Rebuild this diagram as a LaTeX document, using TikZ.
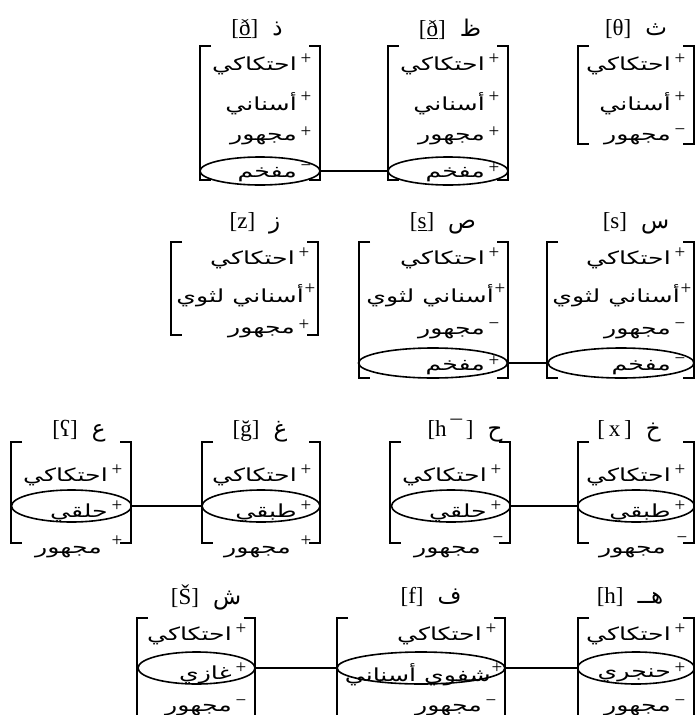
\documentclass[tikz,border=0pt]{standalone}
\usepackage{fontspec}
\setmainfont{Liberation Serif}
\newfontfamily\arabicfont[Script=Arabic,FakeStretch=1.4]{DejaVu Sans}
\newfontfamily\arabictitle[Script=Arabic]{DejaVu Sans}
\TeXXeTstate=1
\usetikzlibrary{shapes.geometric}

% bracket pair of a feature matrix: name, left x, right x, top y, bottom y
\newcommand\featmatrix[5]{%
  \coordinate (#1-nw) at (#2,#4);
  \coordinate (#1-se) at (#3,#5);
  \draw[brk] (#2+11,#4) -- (#1-nw) -- (#2,#5) -- (#2+11,#5);
  \draw[brk] (#3-11,#4) -- (#3,#4) -- (#1-se) -- (#3-11,#5);}

% one feature line: name, right x of the matrix, y, sign, feature
\newcommand\featrow[5]{%
  \node[sgn] (#1s) at (#2-14,#3-7) {#4};
  \node[ftxt,anchor=east] (#1t) at (#2-23,#3) {#5};}

% a feature line whose sign sits close to the word
\newcommand\featrowtight[5]{%
  \node[sgn] (#1s) at (#2-8,#3-7) {#4};
  \node[ftxt,anchor=east] (#1t) at (#2-14,#3) {#5};}

\begin{document}
\begin{tikzpicture}[x=1pt,y=-1pt,
  brk/.style={line width=2pt},
  ovl/.style={ellipse,draw,line width=1.6pt,inner sep=0pt},
  link/.style={line width=1.3pt},
  sgn/.style={font=\fontsize{19}{19}\selectfont,inner sep=0pt},
  ftxt/.style={font=\arabicfont\fontsize{18}{18}\selectfont,inner sep=0pt},
  ttl/.style={font=\fontsize{23}{23}\selectfont,inner sep=0pt}]
\useasboundingbox (0,0) rectangle (695,715);
\clip (0,0) rectangle (695,715);

% ---------- row 1 ----------
\node[ttl] (dhT) at (257,29) {[\underline{ð}]\hspace{14pt}{\arabictitle ذ}};
\featmatrix{dh}{200}{320}{46}{180}
\featrow{dh1}{320}{66}{+}{\beginR احتكاكي\endR}
\featrow{dh2}{320}{104}{+}{\beginR أسناني\endR}
\featrow{dh3}{320}{139}{+}{\beginR مجهور\endR}
\featrow{dh4}{320}{175}{−}{\beginR مفخم\endR}
\node[ovl,minimum width=120pt,minimum height=28pt] (dhE) at (260,171) {};

\node[ttl] (zhT) at (450,29) {[\underline{ð}]\hspace{14pt}{\arabictitle ظ}};
\featmatrix{zh}{388}{508}{46}{180}
\featrow{zh1}{508}{66}{+}{\beginR احتكاكي\endR}
\featrow{zh2}{508}{104}{+}{\beginR أسناني\endR}
\featrow{zh3}{508}{139}{+}{\beginR مجهور\endR}
\featrow{zh4}{508}{175}{+}{\beginR مفخم\endR}
\node[ovl,minimum width=120pt,minimum height=28pt] (zhE) at (448,171) {};

\node[ttl] (thT) at (636,29) {[θ]\hspace{14pt}{\arabictitle ث}};
\featmatrix{th}{578}{694}{46}{144}
\featrow{th1}{694}{66}{+}{\beginR احتكاكي\endR}
\featrow{th2}{694}{104}{+}{\beginR أسناني\endR}
\featrow{th3}{694}{139}{−}{\beginR مجهور\endR}

\draw[link] (dhE.east) -- (zhE.west);

% ---------- row 2 ----------
\node[ttl] (zT) at (255,223) {[z]\hspace{14pt}{\arabictitle ز}};
\featmatrix{z}{171}{318}{242}{335}
\featrow{z1}{318}{260}{+}{\beginR احتكاكي\endR}
\featrowtight{z2}{318}{296}{+}{\beginR أسناني لثوي\endR}
\featrow{z3}{318}{332}{+}{\beginR مجهور\endR}

\node[ttl] (sdT) at (443,223) {[\underline{s}]\hspace{14pt}{\arabictitle ص}};
\featmatrix{sd}{359}{508}{242}{378}
\featrow{sd1}{508}{260}{+}{\beginR احتكاكي\endR}
\featrowtight{sd2}{508}{296}{+}{\beginR أسناني لثوي\endR}
\featrow{sd3}{508}{333}{−}{\beginR مجهور\endR}
\featrow{sd4}{508}{368}{+}{\beginR مفخم\endR}
\node[ovl,minimum width=149pt,minimum height=30pt] (sdE) at (433,363) {};

\node[ttl] (sT) at (636,223) {[s]\hspace{14pt}{\arabictitle س}};
\featmatrix{s}{547}{694}{242}{378}
\featrow{s1}{694}{260}{+}{\beginR احتكاكي\endR}
\featrowtight{s2}{694}{296}{+}{\beginR أسناني لثوي\endR}
\featrow{s3}{694}{333}{−}{\beginR مجهور\endR}
\featrow{s4}{694}{368}{−}{\beginR مفخم\endR}
\node[ovl,minimum width=146pt,minimum height=30pt] (sE) at (621,363) {};

\draw[link] (sdE.east) -- (sE.west);

% ---------- row 3 ----------
\node[ttl] (ainT) at (79,431) {[ʕ]\hspace{14pt}{\arabictitle ع}};
\featmatrix{ain}{11}{131}{442}{543}
\featrow{ain1}{131}{477}{+}{\beginR احتكاكي\endR}
\featrow{ain2}{131}{513}{+}{\beginR حلقي\endR}
\node[sgn] (ain3s) at (117,541) {+};
\node[ftxt,anchor=east] (ain3t) at (102,552) {\beginR مجهور\endR};
\node[ovl,minimum width=120pt,minimum height=32pt] (ainE) at (71.5,506) {};

\node[ttl] (ghT) at (260,431) {[ğ]\hspace{14pt}{\arabictitle غ}};
\featmatrix{gh}{202}{320}{442}{543}
\featrow{gh1}{320}{477}{+}{\beginR احتكاكي\endR}
\featrow{gh2}{320}{513}{+}{\beginR طبقي\endR}
\node[sgn] (gh3s) at (306,541) {+};
\node[ftxt,anchor=east] (gh3t) at (291,552) {\beginR مجهور\endR};
\node[ovl,minimum width=118pt,minimum height=32pt] (ghE) at (261,506) {};

\node[ttl] (hhT) at (465,431) {[h\,¯\,]\hspace{14pt}{\arabictitle ح}};
\featmatrix{hh}{390}{510}{442}{543}
\featrow{hh1}{510}{477}{+}{\beginR احتكاكي\endR}
\featrow{hh2}{510}{513}{+}{\beginR حلقي\endR}
\node[sgn] (hh3s) at (498,540) {−};
\node[ftxt,anchor=east] (hh3t) at (481,552) {\beginR مجهور\endR};
\node[ovl,minimum width=119pt,minimum height=32pt] (hhE) at (451,506) {};

\node[ttl] (khT) at (629,431) {[\,x\,]\hspace{14pt}{\arabictitle خ}};
\featmatrix{kh}{578}{694}{442}{543}
\featrow{kh1}{694}{477}{+}{\beginR احتكاكي\endR}
\featrow{kh2}{694}{513}{+}{\beginR طبقي\endR}
\node[sgn] (kh3s) at (682,540) {−};
\node[ftxt,anchor=east] (kh3t) at (666,552) {\beginR مجهور\endR};
\node[ovl,minimum width=117pt,minimum height=32pt] (khE) at (636,506) {};

\draw[link] (ainE.east) -- (ghE.west);
\draw[link] (hhE.east) -- (khE.west);

% ---------- row 4 ----------
\node[ttl] (shT) at (206,597) {[Š]\hspace{14pt}{\arabictitle ش}};
\featmatrix{sh}{137}{255}{618}{730}
\featrow{sh1}{255}{636}{+}{\beginR احتكاكي\endR}
\featrow{sh2}{255}{675}{+}{\beginR غازي\endR}
\featrow{sh3}{255}{710}{−}{\beginR مجهور\endR}
\node[ovl,minimum width=117pt,minimum height=32pt] (shE) at (196.5,668) {};

\node[ttl] (fT) at (431,597) {[f]\hspace{14pt}{\arabictitle ف}};
\featmatrix{f}{337}{505}{618}{730}
\featrow{f1}{505}{636}{+}{\beginR احتكاكي\endR}
\featrowtight{f2}{505}{675}{+}{\beginR شفوي أسناني\endR}
\featrow{f3}{505}{710}{−}{\beginR مجهور\endR}
\node[ovl,minimum width=168pt,minimum height=32pt] (fE) at (421,668) {};

\node[ttl] (haT) at (630,597) {[h]\hspace{14pt}{\arabictitle\beginR هــ\endR}};
\featmatrix{ha}{578}{694}{618}{730}
\featrow{ha1}{694}{636}{+}{\beginR احتكاكي\endR}
\featrow{ha2}{694}{675}{+}{\beginR حنجري\endR}
\featrow{ha3}{694}{710}{−}{\beginR مجهور\endR}
\node[ovl,minimum width=117pt,minimum height=32pt] (haE) at (636,668) {};

\draw[link] (shE.east) -- (fE.west);
\draw[link] (fE.east) -- (haE.west);
\end{tikzpicture}
\end{document}
